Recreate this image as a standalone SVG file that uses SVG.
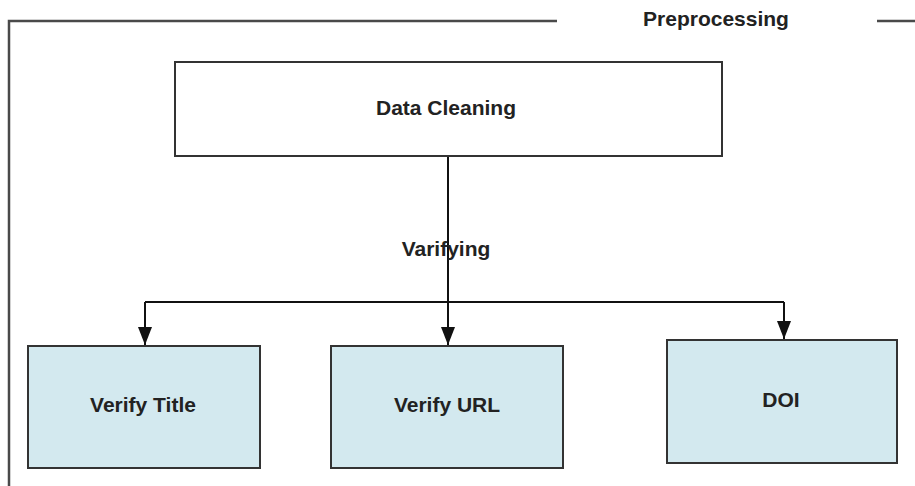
<svg xmlns="http://www.w3.org/2000/svg" width="915" height="486" viewBox="0 0 915 486">
  <style>
    .label { font-family: "Liberation Sans", Arial, sans-serif; font-size: 21px; font-weight: bold; fill: #222; text-anchor: middle; }
    .frame { fill: none; stroke: #4a4a4a; stroke-width: 2.5; }
    .plain { fill: #ffffff; stroke: #333; stroke-width: 2; }
    .task { fill: #d3e9ef; stroke: #333; stroke-width: 2; }
    .wire { fill: none; stroke: #111; stroke-width: 2; }
  </style>
  <defs>
    <marker id="arrow" markerWidth="18" markerHeight="14" refX="18" refY="7" viewBox="0 0 18 14" orient="auto" markerUnits="userSpaceOnUse">
      <path d="M0,0 L18,7 L0,14 Z" fill="#111"/>
    </marker>
  </defs>
  <rect width="915" height="486" fill="#ffffff"/>

  <!-- Preprocessing swimlane frame -->
  <g id="preprocessing">
    <path class="frame" d="M9,486 V21 H557"/>
    <path class="frame" d="M877,21 H915"/>
    <text class="label" x="716" y="26">Preprocessing</text>
  </g>

  <!-- Connectors -->
  <g id="connectors">
    <path class="wire" d="M448,156 V345" marker-end="url(#arrow)"/>
    <path class="wire" d="M145,302 H784"/>
    <path class="wire" d="M145,302 V345" marker-end="url(#arrow)"/>
    <path class="wire" d="M784,302 V339" marker-end="url(#arrow)"/>
    <text class="label" x="446" y="256">Varifying</text>
  </g>

  <g id="data-cleaning">
    <rect class="plain" x="175" y="62" width="547" height="94"/>
    <text class="label" x="446" y="115">Data Cleaning</text>
  </g>

  <g id="verify-title">
    <rect class="task" x="28" y="346" width="232" height="122"/>
    <text class="label" x="143" y="412">Verify Title</text>
  </g>

  <g id="verify-url">
    <rect class="task" x="331" y="346" width="232" height="122"/>
    <text class="label" x="447" y="412">Verify URL</text>
  </g>

  <g id="doi">
    <rect class="task" x="667" y="340" width="230" height="123"/>
    <text class="label" x="781" y="407">DOI</text>
  </g>
</svg>
